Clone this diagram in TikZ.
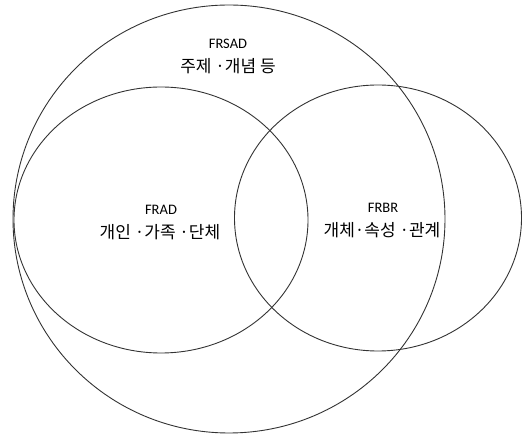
\documentclass[tikz,border=0pt]{standalone}
\usepackage{fontspec}
\setmainfont{Noto Sans CJK KR}
\newfontfamily\latfont{Carlito}
\begin{document}
\begin{tikzpicture}[x=1pt,y=-1pt,
  ring/.style={draw=black!80,line width=0.9pt},
  lat/.style={font=\latfont\fontsize{14.5}{16}\selectfont,inner sep=0pt,anchor=center},
  kor/.style={font=\fontsize{17}{20}\selectfont,inner sep=0pt,anchor=center}]
\useasboundingbox (0,0) rectangle (523,435);
\draw[ring] (229,219) ellipse [x radius=216,y radius=214];
\draw[ring] (161,220) ellipse [x radius=147,y radius=133];
\draw[ring] (378,218) ellipse [x radius=143.5,y radius=133];
\node[lat] (frsad) at (228,44) {FRSAD};
\node[kor] (frsadk) at (228,66) {주제 ·개념 등};
\node[lat] (frad) at (161,210) {FRAD};
\node[kor] (fradk) at (160,232) {개인 ·가족 ·단체};
\node[lat] (frbr) at (383,208) {FRBR};
\node[kor] (frbrk) at (382,230) {개체·속성 ·관계};
\end{tikzpicture}
\end{document}
